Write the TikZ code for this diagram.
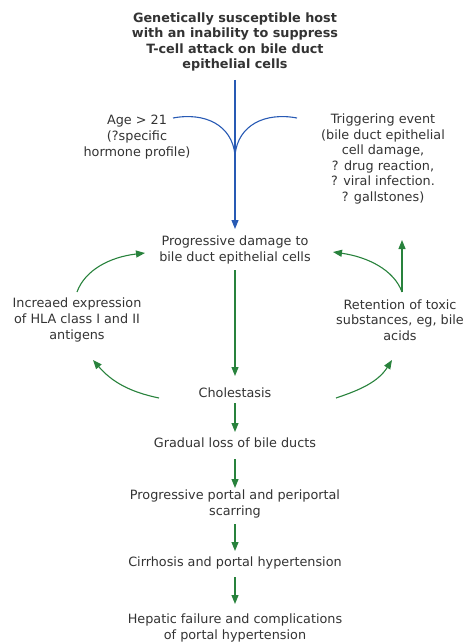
\documentclass[tikz,border=0pt]{standalone}
\usepackage{fontspec}
\setmainfont{DejaVu Sans}
\usetikzlibrary{arrows.meta}
\definecolor{txt}{RGB}{51,51,51}
\definecolor{grn}{RGB}{40,130,60}
\definecolor{blu}{RGB}{40,90,180}
\begin{document}
\begin{tikzpicture}[x=1pt,y=-1pt,
  lbl/.style={text=txt,font=\fontsize{12.8}{15.6}\selectfont,align=center,inner sep=0pt},
  ttl/.style={lbl,font=\fontsize{12.8}{15.6}\selectfont\bfseries},
  garrow/.style={draw=grn,line width=1.1pt,-{Triangle[length=9pt,width=7pt]}},
  gline/.style={draw=grn,line width=1.1pt},
  barrow/.style={draw=blu,line width=1.1pt,-{Triangle[length=9pt,width=7pt]}},
  bline/.style={draw=blu,line width=1.1pt}]
\useasboundingbox (0,0) rectangle (470,644);
\node[ttl] (host) at (235,42) {Genetically susceptible host\\with an inability to suppress\\T-cell attack on bile duct\\epithelial cells};
\node[lbl] (age) at (137,137) {Age > 21\\(?specific\\hormone profile)};
\node[lbl] (trig) at (383,159) {Triggering event\\(bile duct epithelial\\cell damage,\\? drug reaction,\\? viral infection.\\? gallstones)};
\node[lbl] (prog) at (235,250) {Progressive damage to\\bile duct epithelial cells};
\node[lbl] (hla) at (77,320) {Increaed expression\\of HLA class I and II\\antigens};
\node[lbl] (ret) at (400,320) {Retention of toxic\\substances, eg, bile\\acids};
\node[lbl] (chol) at (235,393) {Cholestasis};
\node[lbl] (loss) at (235,443) {Gradual loss of bile ducts};
\node[lbl] (scar) at (235,504) {Progressive portal and periportal\\scarring};
\node[lbl] (cirr) at (235,563) {Cirrhosis and portal hypertension};
\node[lbl] (hep) at (235,628) {Hepatic failure and complications\\of portal hypertension};
% blue
\coordinate (btop) at (235,80);
\coordinate (bmid) at (235,155);
\coordinate (bend) at (235,229);
\coordinate (al) at (173,118);
\coordinate (ar) at (297,118);
\draw[barrow] (btop) -- (bend);
\draw[bline] (al) .. controls (205,112) and (232,125) .. (bmid);
\draw[bline] (ar) .. controls (265,112) and (238,125) .. (bmid);
% green main
\coordinate (p1) at (235,270);
\coordinate (p2) at (235,376);
\draw[garrow] (p1) -- (p2);
\coordinate (c1) at (235,403);
\coordinate (c2) at (235,432);
\draw[garrow] (c1) -- (c2);
\coordinate (l1) at (235,459);
\coordinate (l2) at (235,488);
\draw[garrow] (l1) -- (l2);
\coordinate (s1) at (235,524);
\coordinate (s2) at (235,551);
\draw[garrow] (s1) -- (s2);
\coordinate (r1) at (235,577);
\coordinate (r2) at (235,604);
\draw[garrow] (r1) -- (r2);
% loops
\coordinate (hlaT) at (77,292);
\coordinate (progW) at (145,253);
\draw[garrow] (hlaT) .. controls (85,270) and (110,257) .. (progW);
\coordinate (cholW) at (159,398);
\coordinate (hlaB) at (93,360);
\draw[garrow] (cholW) .. controls (130,392) and (112,382) .. (hlaB);
\coordinate (retT) at (402,292);
\coordinate (progE) at (333,252);
\coordinate (retUp) at (402,240);
\draw[garrow] (retT) .. controls (394,270) and (368,257) .. (progE);
\draw[garrow] (retT) -- (retUp);
\coordinate (cholE) at (336,398);
\coordinate (retB) at (392,360);
\draw[garrow] (cholE) .. controls (360,390) and (378,382) .. (retB);
\end{tikzpicture}
\end{document}
